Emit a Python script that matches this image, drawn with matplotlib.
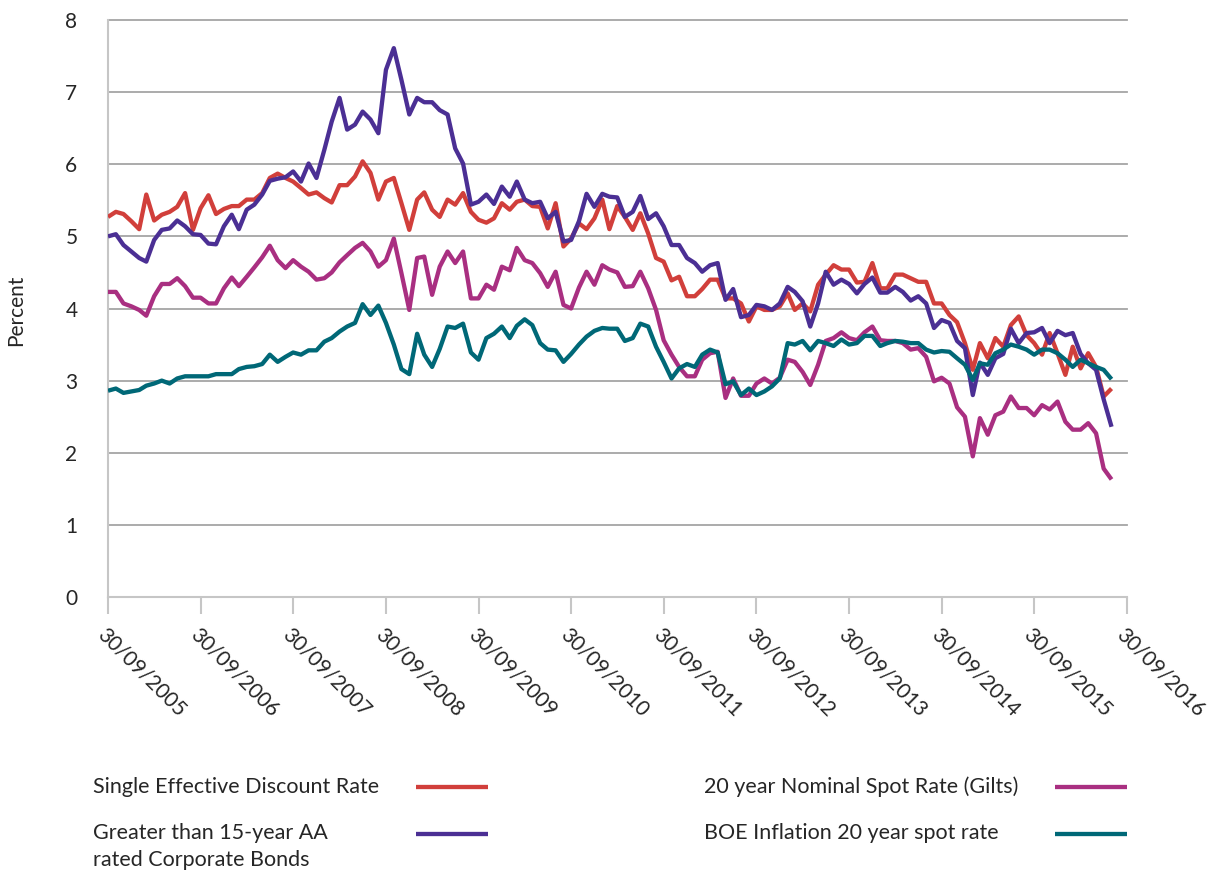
import matplotlib
matplotlib.use("Agg")
import matplotlib.pyplot as plt
from matplotlib.lines import Line2D
import pandas as pd
import datetime as dt

plt.rcParams['font.family'] = ['Lato', 'DejaVu Sans']

# Monthly month-end observations, Sep 2005 - Jul 2016
start_date = "2005-09-30"
n_points = 131

sedr = [5.27, 5.34, 5.31, 5.21, 5.10, 5.58, 5.22, 5.30, 5.34, 5.41, 5.60, 5.09, 5.39, 5.57, 5.31, 5.38,
        5.42, 5.42, 5.51, 5.51, 5.60, 5.81, 5.87, 5.81, 5.76, 5.67, 5.58, 5.61, 5.53, 5.47, 5.71, 5.71,
        5.83, 6.04, 5.88, 5.51, 5.76, 5.81, 5.46, 5.09, 5.51, 5.61, 5.37, 5.27, 5.51, 5.44, 5.60, 5.34,
        5.23, 5.19, 5.25, 5.46, 5.37, 5.48, 5.51, 5.42, 5.41, 5.11, 5.46, 4.86, 4.97, 5.18, 5.10, 5.25,
        5.51, 5.10, 5.42, 5.27, 5.09, 5.32, 5.04, 4.70, 4.65, 4.39, 4.44, 4.17, 4.17, 4.27, 4.40, 4.40,
        4.14, 4.14, 4.07, 3.82, 4.03, 3.98, 3.98, 4.03, 4.21, 3.98, 4.07, 3.96, 4.33, 4.47, 4.60, 4.54,
        4.54, 4.36, 4.37, 4.63, 4.28, 4.28, 4.47, 4.47, 4.42, 4.37, 4.37, 4.07, 4.07, 3.91, 3.81, 3.52,
        3.15, 3.52, 3.31, 3.59, 3.47, 3.77, 3.89, 3.63, 3.52, 3.36, 3.66, 3.38, 3.08, 3.47, 3.17, 3.38,
        3.19, 2.78, 2.89]

aa_bonds = [5.00, 5.03, 4.88, 4.79, 4.70, 4.65, 4.95, 5.09, 5.11, 5.22, 5.14, 5.03, 5.02, 4.90, 4.89, 5.14,
            5.30, 5.10, 5.37, 5.44, 5.58, 5.77, 5.80, 5.82, 5.90, 5.76, 6.01, 5.81, 6.20, 6.59, 6.92, 6.48,
            6.55, 6.73, 6.62, 6.43, 7.31, 7.61, 7.17, 6.69, 6.92, 6.86, 6.86, 6.75, 6.69, 6.22, 6.01, 5.44,
            5.48, 5.58, 5.45, 5.69, 5.55, 5.76, 5.51, 5.46, 5.48, 5.25, 5.34, 4.93, 4.95, 5.21, 5.59, 5.41,
            5.59, 5.55, 5.54, 5.27, 5.34, 5.56, 5.24, 5.32, 5.14, 4.88, 4.88, 4.70, 4.63, 4.51, 4.60, 4.63,
            4.12, 4.27, 3.88, 3.91, 4.05, 4.03, 3.98, 4.07, 4.30, 4.23, 4.10, 3.75, 4.07, 4.51, 4.33, 4.40,
            4.34, 4.21, 4.34, 4.43, 4.22, 4.22, 4.30, 4.23, 4.11, 4.17, 4.07, 3.73, 3.84, 3.80, 3.55, 3.45,
            2.80, 3.25, 3.08, 3.31, 3.37, 3.72, 3.52, 3.66, 3.67, 3.73, 3.52, 3.69, 3.63, 3.66, 3.37, 3.24,
            3.15, 2.74, 2.36]

gilts = [4.23, 4.23, 4.07, 4.03, 3.98, 3.90, 4.17, 4.34, 4.34, 4.42, 4.31, 4.15, 4.15, 4.07, 4.07, 4.28,
         4.43, 4.31, 4.44, 4.57, 4.71, 4.87, 4.67, 4.56, 4.67, 4.58, 4.51, 4.40, 4.42, 4.50, 4.64, 4.74,
         4.84, 4.91, 4.79, 4.58, 4.67, 4.97, 4.49, 3.98, 4.70, 4.72, 4.19, 4.58, 4.79, 4.63, 4.79, 4.14,
         4.14, 4.33, 4.26, 4.58, 4.53, 4.84, 4.67, 4.63, 4.49, 4.30, 4.51, 4.05, 4.00, 4.29, 4.51, 4.33,
         4.60, 4.54, 4.50, 4.30, 4.31, 4.51, 4.28, 3.98, 3.56, 3.36, 3.19, 3.06, 3.06, 3.29, 3.38, 3.40,
         2.76, 3.03, 2.79, 2.79, 2.96, 3.03, 2.96, 3.04, 3.29, 3.26, 3.12, 2.94, 3.22, 3.55, 3.59, 3.67,
         3.59, 3.56, 3.67, 3.75, 3.56, 3.55, 3.55, 3.52, 3.43, 3.45, 3.33, 2.99, 3.04, 2.96, 2.63, 2.50,
         1.95, 2.48, 2.25, 2.52, 2.57, 2.78, 2.62, 2.62, 2.52, 2.66, 2.60, 2.71, 2.43, 2.32, 2.32, 2.41,
         2.27, 1.78, 1.63]

boe_inflation = [2.86, 2.89, 2.83, 2.85, 2.87, 2.93, 2.96, 3.00, 2.96, 3.03, 3.06, 3.06, 3.06, 3.06, 3.09, 3.09,
                 3.09, 3.16, 3.19, 3.20, 3.23, 3.36, 3.26, 3.33, 3.39, 3.36, 3.42, 3.42, 3.54, 3.59, 3.68, 3.75,
                 3.80, 4.06, 3.91, 4.04, 3.80, 3.50, 3.16, 3.09, 3.65, 3.36, 3.19, 3.44, 3.75, 3.73, 3.79, 3.39,
                 3.29, 3.59, 3.65, 3.75, 3.59, 3.76, 3.85, 3.77, 3.52, 3.43, 3.42, 3.26, 3.37, 3.50, 3.61, 3.69,
                 3.73, 3.72, 3.72, 3.55, 3.59, 3.79, 3.75, 3.47, 3.26, 3.03, 3.17, 3.23, 3.19, 3.36, 3.43, 3.39,
                 2.95, 2.99, 2.80, 2.89, 2.80, 2.85, 2.92, 3.03, 3.52, 3.50, 3.55, 3.42, 3.55, 3.52, 3.48, 3.57,
                 3.50, 3.52, 3.62, 3.62, 3.48, 3.52, 3.55, 3.54, 3.52, 3.52, 3.43, 3.39, 3.41, 3.40, 3.31, 3.22,
                 3.01, 3.24, 3.22, 3.38, 3.43, 3.50, 3.47, 3.43, 3.36, 3.43, 3.43, 3.38, 3.29, 3.19, 3.29, 3.24,
                 3.19, 3.15, 3.02]

series_labels = ["Single Effective Discount Rate",
                 "Greater than 15-year AA\nrated Corporate Bonds",
                 "20 year Nominal Spot Rate (Gilts)",
                 "BOE Inflation 20 year spot rate"]
series_colors = ["#d13f3b", "#4b2f94", "#a92f81", "#006877"]

tick_years = list(range(2005, 2017))
y_ticks = [0, 1, 2, 3, 4, 5, 6, 7, 8]

dates = pd.date_range(start_date, periods=n_points, freq="ME")

W, H = 1213, 871
fig = plt.figure(figsize=(W / 100, H / 100), dpi=100)
ax = fig.add_axes([108 / W, 1 - 597 / H, (1127 - 108) / W, (597 - 20) / H])

text_color = "#262626"
grid_color = "#a5a5a5"
axis_color = "#c6c6c6"
tick_fs = 15
leg_fs = 15.5

for y in y_ticks[1:]:
    ax.axhline(y, color=grid_color, lw=1.3, zorder=1, clip_on=False)

for vals, col in zip([sedr, aa_bonds, gilts, boe_inflation], series_colors):
    ax.plot(dates, vals, color=col, lw=3.1, solid_joinstyle="round", solid_capstyle="butt", zorder=3)

ax.set_ylim(0, 8)
ax.set_xlim(dt.datetime(2005, 9, 30), dt.datetime(2016, 9, 30))
ax.set_yticks(y_ticks)
ax.set_yticklabels([str(v) for v in y_ticks])

tick_dates = [dt.datetime(y, 9, 30) for y in tick_years]
ax.set_xticks(tick_dates)
ax.set_xticklabels([d.strftime("%d/%m/%Y") for d in tick_dates], rotation=-45,
                   ha="left", va="top", rotation_mode="anchor")

for s in ["top", "right"]:
    ax.spines[s].set_visible(False)
for s in ["left", "bottom"]:
    ax.spines[s].set_color(axis_color)
    ax.spines[s].set_linewidth(1.5)

ax.tick_params(axis="y", length=0, pad=22, labelsize=tick_fs, labelcolor=text_color)
ax.tick_params(axis="x", length=12, width=1.5, color=axis_color, direction="out",
               pad=8, labelsize=tick_fs, labelcolor=text_color)

fig.text(16 / W, 1 - 310 / H, "Percent", rotation=90, ha="center", va="center",
         fontsize=tick_fs, color=text_color)


def fx(px):
    return px / W


def fy(py):
    return 1 - py / H


first, second = series_labels[1].split("\n")
fig.text(fx(93), fy(787), series_labels[0], ha="left", va="center", fontsize=leg_fs, color=text_color)
fig.text(fx(93), fy(833), first, ha="left", va="center", fontsize=leg_fs, color=text_color)
fig.text(fx(93), fy(860), second, ha="left", va="center", fontsize=leg_fs, color=text_color)
fig.text(fx(704), fy(787), series_labels[2], ha="left", va="center", fontsize=leg_fs, color=text_color)
fig.text(fx(704), fy(833), series_labels[3], ha="left", va="center", fontsize=leg_fs, color=text_color)

for (x0, x1, yy), col in zip([(416, 488, 787), (416, 488, 834), (1055, 1127, 787), (1055, 1127, 834)],
                             series_colors):
    fig.add_artist(Line2D([fx(x0), fx(x1)], [fy(yy), fy(yy)], color=col, lw=3.1,
                          transform=fig.transFigure, solid_capstyle="butt"))

fig.savefig("out.png", dpi=100)
